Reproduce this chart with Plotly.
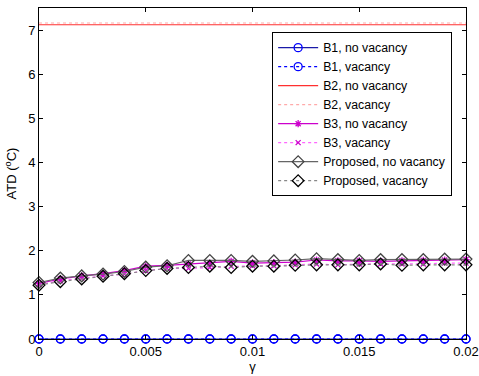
import plotly.graph_objects as go

gamma = [i * 0.001 for i in range(21)]

b1_novac = [0.0] * 21
b1_vac = [0.0] * 21
b2_novac = [7.12] * 21
b2_vac = [7.16] * 21
b3_novac = [1.26, 1.36, 1.43, 1.48, 1.55, 1.65, 1.67, 1.70, 1.72, 1.76, 1.72,
            1.73, 1.74, 1.79, 1.77, 1.77, 1.76, 1.77, 1.78, 1.79, 1.80]
b3_vac = [1.24, 1.32, 1.38, 1.43, 1.47, 1.55, 1.60, 1.60, 1.62, 1.65, 1.66,
          1.66, 1.68, 1.70, 1.68, 1.70, 1.70, 1.70, 1.70, 1.72, 1.72]
prop_novac = [1.28, 1.38, 1.43, 1.47, 1.53, 1.63, 1.66, 1.78, 1.78, 1.78, 1.76,
              1.77, 1.79, 1.82, 1.80, 1.78, 1.80, 1.80, 1.80, 1.81, 1.81]
prop_vac = [1.22, 1.30, 1.36, 1.42, 1.48, 1.55, 1.60, 1.62, 1.65, 1.62, 1.65,
            1.65, 1.67, 1.68, 1.68, 1.68, 1.70, 1.67, 1.68, 1.68, 1.68]

x_ticks = [0, 0.005, 0.01, 0.015, 0.02]
x_ticklabels = ["0", "0.005", "0.01", "0.015", "0.02"]
y_ticks = [0, 1, 2, 3, 4, 5, 6, 7]

FONT = "Liberation Sans, Arial, sans-serif"

fig = go.Figure()

def add(name, y, color, dash, symbol=None, msize=8, mcolor=None):
    mode = "lines+markers" if symbol else "lines"
    mc = mcolor or color
    fig.add_trace(go.Scatter(
        x=gamma, y=y, name=name, mode=mode, cliponaxis=False,
        line=dict(color=color, width=1.2, dash=dash),
        marker=dict(symbol=symbol or "circle-open", size=msize, color=mc,
                    line=dict(color=mc, width=1.3)),
    ))

add("B1, no vacancy", b1_novac, "#1a1aa8", "solid", "circle-open", 8, "#0000ff")
add("B1, vacancy", b1_vac, "#0000ff", "dot", "circle-open", 8, "#0000ff")
add("B2, no vacancy", b2_novac, "#ff3030", "solid")
add("B2, vacancy", b2_vac, "#ffaaaa", "dot")
add("B3, no vacancy", b3_novac, "#cc00cc", "solid", "asterisk-open", 6, "#cc00cc")
add("B3, vacancy", b3_vac, "#ff66ff", "dot", "x-thin-open", 5, "#cc00cc")
add("Proposed, no vacancy", prop_novac, "#666666", "solid", "diamond-open", 9, "#444444")
add("Proposed, vacancy", prop_vac, "#888888", "dot", "diamond-open", 9, "#000000")

axis_common = dict(
    showline=True, linecolor="black", linewidth=1, mirror="allticks",
    ticks="inside", ticklen=4, tickcolor="black", showgrid=False, zeroline=False,
    automargin=False,
    tickfont=dict(family=FONT, size=13, color="black"),
)

fig.update_layout(
    width=479, height=376,
    margin=dict(l=39, r=13, t=8, b=37),
    paper_bgcolor="white", plot_bgcolor="white",
    font=dict(family=FONT, size=13, color="black"),
    xaxis=dict(range=[0, 0.02], tickvals=x_ticks, ticktext=x_ticklabels,
               title=dict(text="γ", standoff=1, font=dict(size=13)), **axis_common),
    yaxis=dict(range=[0, 7.5], tickvals=y_ticks,
               title=dict(text="ATD (<sup>o</sup>C)", standoff=8, font=dict(size=13)), **axis_common),
    legend=dict(x=0.546, y=0.927, xanchor="left", yanchor="top",
                bgcolor="white", bordercolor="black", borderwidth=1,
                font=dict(family=FONT, size=12.3, color="black"),
                tracegroupgap=0, itemwidth=40),
    showlegend=True,
)

fig.write_html("out.html")
